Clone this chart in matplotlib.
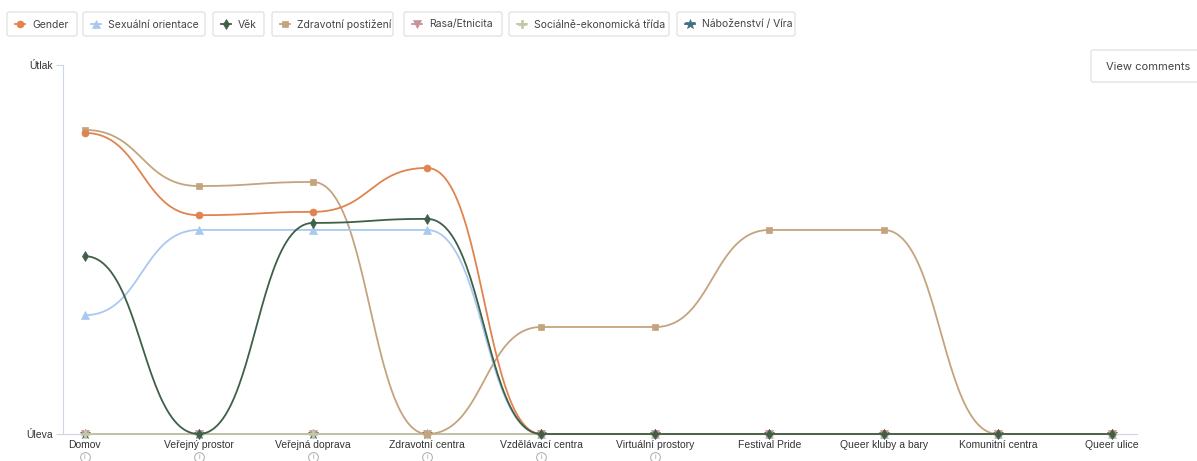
import numpy as np
import matplotlib
matplotlib.use("Agg")
import matplotlib.pyplot as plt
from matplotlib.patches import FancyBboxPatch

plt.rcParams['font.family'] = ['Liberation Sans', 'DejaVu Sans']

categories = ["Domov", "Veřejný prostor", "Veřejná doprava", "Zdravotní centra",
              "Vzdělávací centra", "Virtuální prostory", "Festival Pride",
              "Queer kluby a bary", "Komunitní centra", "Queer ulice"]
info_icons = [True, True, True, True, True, True, False, False, False, False]

gender = [0.816, 0.593, 0.602, 0.721, 0, 0, 0, 0, 0, 0]
sexualni = [0.322, 0.553, 0.553, 0.553, 0, 0, 0, 0, 0, 0]
vek = [0.482, 0, 0.572, 0.583, 0, 0, 0, 0, 0, 0]
zdravotni = [0.824, 0.672, 0.683, 0, 0.29, 0.29, 0.553, 0.553, 0, 0]
rasa = [0, 0, 0, 0, 0, 0, 0, 0, 0, 0]
socio = [0, 0, 0, 0, 0, 0, 0, 0, 0, 0]
nabozenstvi = [0, 0, 0, 0, 0, 0, 0, 0, 0, 0]

series = [
    ("Gender", gender, "#e0844f", "o", 5),
    ("Sexuální orientace", sexualni, "#a9c9ee", "^", 5.5),
    ("Věk", vek, "#3e5f48", "d", 5.5),
    ("Zdravotní postižení", zdravotni, "#c4a47e", "s", 4.5),
    ("Rasa/Etnicita", rasa, "#c7939b", "v", 5.5),
    ("Sociálně-ekonomická třída", socio, "#c3c7a2", "P", 5.5),
    ("Náboženství / Víra", nabozenstvi, "#3f6f80", "*", 7),
]


def bump(xs, ys, n=50):
    # horizontal tangent at every point (bezier with mid-x control points)
    px, py = [], []
    for i in range(len(xs) - 1):
        x0, x1 = xs[i], xs[i + 1]
        y0, y1 = ys[i], ys[i + 1]
        xm = (x0 + x1) / 2
        u = np.linspace(0, 1, n)
        b0 = (1 - u) ** 3
        b1 = 3 * u * (1 - u) ** 2
        b2 = 3 * u ** 2 * (1 - u)
        b3 = u ** 3
        px.extend(b0 * x0 + b1 * xm + b2 * xm + b3 * x1)
        py.extend(b0 * y0 + b1 * y0 + b2 * y1 + b3 * y1)
    return np.array(px), np.array(py)


fig = plt.figure(figsize=(11.97, 4.61), dpi=100)
ax = fig.add_axes([63 / 1197, 1 - 434 / 461, (1137 - 63) / 1197, (434 - 65) / 461])
ax.patch.set_alpha(0)

x = np.arange(len(categories))
# minor series underneath, main ones on top
order = [6, 4, 5, 3, 1, 0, 2]
for z, idx in enumerate(order):
    name, vals, col, mk, ms = series[idx]
    cx, cy = bump(x, vals)
    ax.plot(cx, cy, color=col, lw=1.3, zorder=3 + z, solid_capstyle='round', clip_on=False)
    ax.plot(x, vals, linestyle='none', marker=mk, color=col, markersize=ms,
            markeredgewidth=0.5, zorder=3 + z, clip_on=False)

ax.set_xlim(-0.19, 9.22)
ax.set_ylim(0, 1)
ax.set_yticks([0, 1])
ax.set_yticklabels(["Úleva", "Útlak"], fontsize=7.5, color="#333333")
ax.set_xticks(x)
ax.set_xticklabels(categories, fontsize=7.5, color="#333333")
ax.tick_params(axis='x', length=0, pad=4)
ax.tick_params(axis='y', length=5, color="#ccd6eb", pad=2)
for sp in ["top", "right"]:
    ax.spines[sp].set_visible(False)
ax.spines["left"].set_color("#ccd6eb")
ax.spines["bottom"].set_color("#ccd6eb")
ax.spines["left"].set_linewidth(0.8)
ax.spines["bottom"].set_linewidth(0.8)

# info icons below some labels
tr = ax.get_xaxis_transform()
for xi, has in zip(x, info_icons):
    if has:
        ax.plot(xi, -0.063, marker='o', markersize=7, markerfacecolor='white',
                markeredgecolor='#aaaaaa', markeredgewidth=0.7, transform=tr, clip_on=False)
        ax.text(xi, -0.063, "i", transform=tr, fontsize=5, color='#999999',
                ha='center', va='center', clip_on=False)

# legend buttons and "View comments" button in pixel coordinates
ov = fig.add_axes([0, 0, 1, 1], zorder=-1)
ov.set_xlim(0, 1197)
ov.set_ylim(461, 0)
ov.axis('off')
box_left = [7, 83, 213, 272, 404, 509, 677]
box_right = [77, 205, 264, 393, 502, 669, 795]
for (name, vals, col, mk, ms), l, r in zip(series, box_left, box_right):
    ov.add_patch(FancyBboxPatch((l, 12), r - l, 24, boxstyle="round,pad=0,rounding_size=2",
                                facecolor='white', edgecolor='#dcdcdc', lw=0.8))
    ov.plot([l + 8, l + 18], [24, 24], color=col, lw=1.3)
    ov.plot(l + 13, 24, marker=mk, color=col, markersize=ms, markeredgewidth=0.5)
    ov.text(l + 25, 24.5, name, fontsize=7.5, color='#444444', va='center', ha='left',
            family=['Inter', 'DejaVu Sans'])

ov.add_patch(FancyBboxPatch((1091, 50), 110, 32, boxstyle="round,pad=0,rounding_size=2",
                            facecolor='white', edgecolor='#dcdcdc', lw=0.8))
ov.text(1148, 67, "View comments", fontsize=8, color='#444444', va='center', ha='center',
        family=['Inter', 'DejaVu Sans'])

fig.savefig("out.png", dpi=100)
